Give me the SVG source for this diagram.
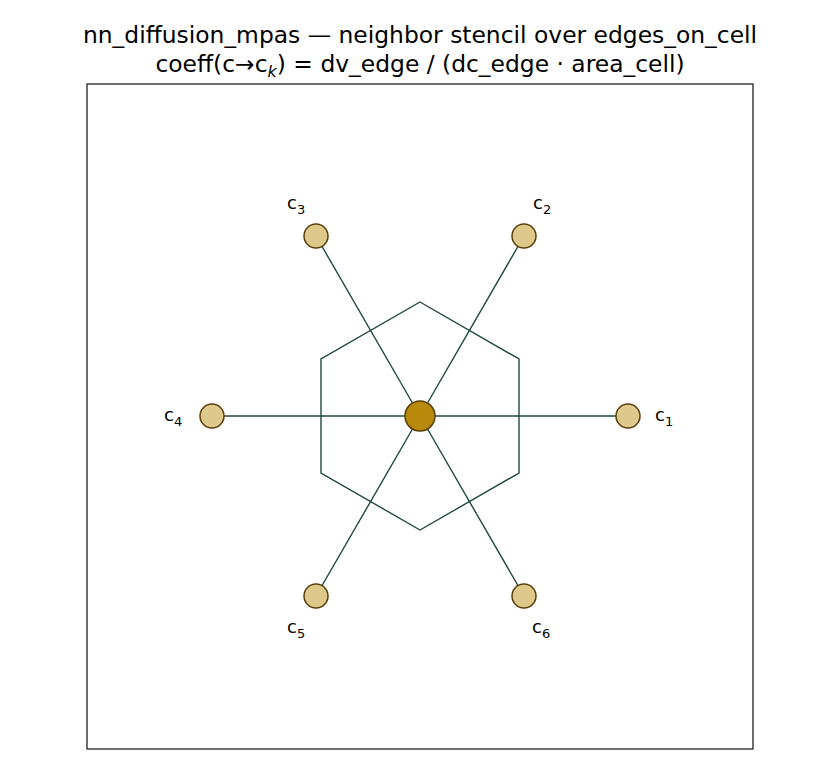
<svg xmlns="http://www.w3.org/2000/svg" width="840" height="770" viewBox="0 0 840 770">
<style>
text{font-family:"DejaVu Sans",sans-serif;fill:#000}
.t{font-size:23.4px;text-anchor:middle}
.l{font-size:18px}
.s{font-size:13px}
.e{stroke:#1f4a3c;stroke-width:1.4;fill:none}
.n{fill:#dfc88c;stroke:#5a3d0a;stroke-width:1.5}
</style>
<rect width="840" height="770" fill="#fff"/>
<text class="t" x="420" y="43">nn_diffusion_mpas — neighbor stencil over edges_on_cell</text>
<text class="t" x="420" y="72">coeff(c→c<tspan font-size="16" dy="5" font-style="italic">k</tspan><tspan dy="-5">) = dv_edge / (dc_edge · area_cell)</tspan></text>
<rect x="87" y="84" width="666" height="665" fill="none" stroke="#222" stroke-width="1.3"/>
<g id="connectors">
<polygon class="e" points="420,302 519,359 519,473 420,530 321,473 321,359"/>
<line class="e" x1="420" y1="416" x2="628" y2="416"/>
<line class="e" x1="420" y1="416" x2="524" y2="236"/>
<line class="e" x1="420" y1="416" x2="316" y2="236"/>
<line class="e" x1="420" y1="416" x2="212" y2="416"/>
<line class="e" x1="420" y1="416" x2="316" y2="596"/>
<line class="e" x1="420" y1="416" x2="524" y2="596"/>
</g>
<g id="c0"><circle cx="420" cy="416" r="15" fill="#b8890a" stroke="#5a3d0a" stroke-width="1.5"/></g>
<g id="c1"><circle class="n" cx="628" cy="416" r="12"/><text class="l" x="655" y="421">c<tspan class="s" dy="5">1</tspan></text></g>
<g id="c2"><circle class="n" cx="524" cy="236" r="12"/><text class="l" x="533" y="209">c<tspan class="s" dy="5">2</tspan></text></g>
<g id="c3"><circle class="n" cx="316" cy="236" r="12"/><text class="l" x="287" y="209">c<tspan class="s" dy="5">3</tspan></text></g>
<g id="c4"><circle class="n" cx="212" cy="416" r="12"/><text class="l" x="164" y="421">c<tspan class="s" dy="5">4</tspan></text></g>
<g id="c5"><circle class="n" cx="316" cy="596" r="12"/><text class="l" x="287" y="633">c<tspan class="s" dy="5">5</tspan></text></g>
<g id="c6"><circle class="n" cx="524" cy="596" r="12"/><text class="l" x="532" y="633">c<tspan class="s" dy="5">6</tspan></text></g>
</svg>
